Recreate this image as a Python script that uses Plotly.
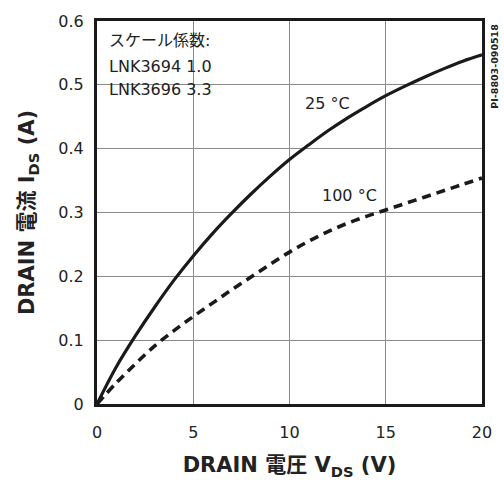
import plotly.graph_objects as go

# Drain characteristics: drain current vs drain-source voltage
vds_25 = [0, 1, 2, 3, 4, 5, 6, 7, 8, 9, 10, 11, 12, 13, 14, 15, 16, 17, 18, 19, 20]
ids_25 = [0, 0.058, 0.107, 0.152, 0.194, 0.232, 0.267, 0.299, 0.329, 0.357, 0.383,
          0.406, 0.428, 0.448, 0.466, 0.483, 0.498, 0.512, 0.525, 0.537, 0.547]

vds_100 = [0, 1, 2, 3, 4, 5, 6, 7, 8, 9, 10, 11, 12, 13, 14, 15, 16, 17, 18, 19, 20]
ids_100 = [0, 0.033, 0.063, 0.091, 0.115, 0.137, 0.158, 0.179, 0.199, 0.219, 0.238,
           0.255, 0.270, 0.283, 0.294, 0.304, 0.314, 0.324, 0.334, 0.344, 0.354]

x_ticks = [0, 5, 10, 15, 20]
y_ticks = [0, 0.1, 0.2, 0.3, 0.4, 0.5, 0.6]
y_tick_text = ["0", "0.1", "0.2", "0.3", "0.4", "0.5", "0.6"]

FONT = "DejaVu Sans, Noto Sans CJK JP"
INK = "#1a1a1a"

fig = go.Figure()
fig.add_trace(go.Scatter(
    x=vds_25, y=ids_25, mode="lines",
    line=dict(color=INK, width=3.2, shape="spline", smoothing=1.0),
    showlegend=False, hoverinfo="skip",
))
fig.add_trace(go.Scatter(
    x=vds_100, y=ids_100, mode="lines",
    line=dict(color=INK, width=3.6, shape="spline", smoothing=1.0,
              dash="9px,6px"),
    showlegend=False, hoverinfo="skip",
))

axis_common = dict(
    showgrid=True, gridcolor="#8a8a8a", gridwidth=1,
    showline=True, linecolor=INK, linewidth=3, mirror=True,
    ticks="inside", ticklen=5, tickcolor="#8a8a8a", tickwidth=1,
    zeroline=False,
    tickfont=dict(family=FONT, size=16, color="#222"),
)

fig.update_xaxes(
    range=[0, 20], tickvals=x_ticks, ticktext=[str(v) for v in x_ticks],
    ticklabelstandoff=12,
    title=dict(text="<b>DRAIN 電圧 V<sub>DS</sub> (V)</b>",
               font=dict(family=FONT, size=21, color="#222"), standoff=17),
    **axis_common,
)
fig.update_yaxes(
    range=[0, 0.6], tickvals=y_ticks, ticktext=y_tick_text,
    ticklabelstandoff=7,
    title=dict(text="<b>DRAIN 電流 I<sub>DS</sub> (A)</b>",
               font=dict(family=FONT, size=21, color="#222"), standoff=18),
    **axis_common,
)

annots = [
    dict(x=0.5, y=0.569, text="スケール係数:"),
    dict(x=0.5, y=0.529, text="LNK3694 1.0"),
    dict(x=0.5, y=0.492, text="LNK3696 3.3"),
    dict(x=10.7, y=0.470, text="25 °C"),
    dict(x=11.58, y=0.327, text="100 °C"),
]
for a in annots:
    fig.add_annotation(x=a["x"], y=a["y"], text=a["text"], xanchor="left",
                       yanchor="middle", showarrow=False,
                       font=dict(family=FONT, size=16, color="#222"))

fig.add_annotation(
    xref="paper", yref="paper", x=1.0, y=0.997, xshift=13,
    text="<b>PI-8803-090518</b>", textangle=-90, showarrow=False,
    xanchor="center", yanchor="top",
    font=dict(family=FONT, size=9.5, color="#222"),
)

fig.update_layout(
    width=504, height=487,
    margin=dict(l=97, r=22, t=17, b=83),
    paper_bgcolor="white", plot_bgcolor="white",
)

fig.write_html("out.html")
